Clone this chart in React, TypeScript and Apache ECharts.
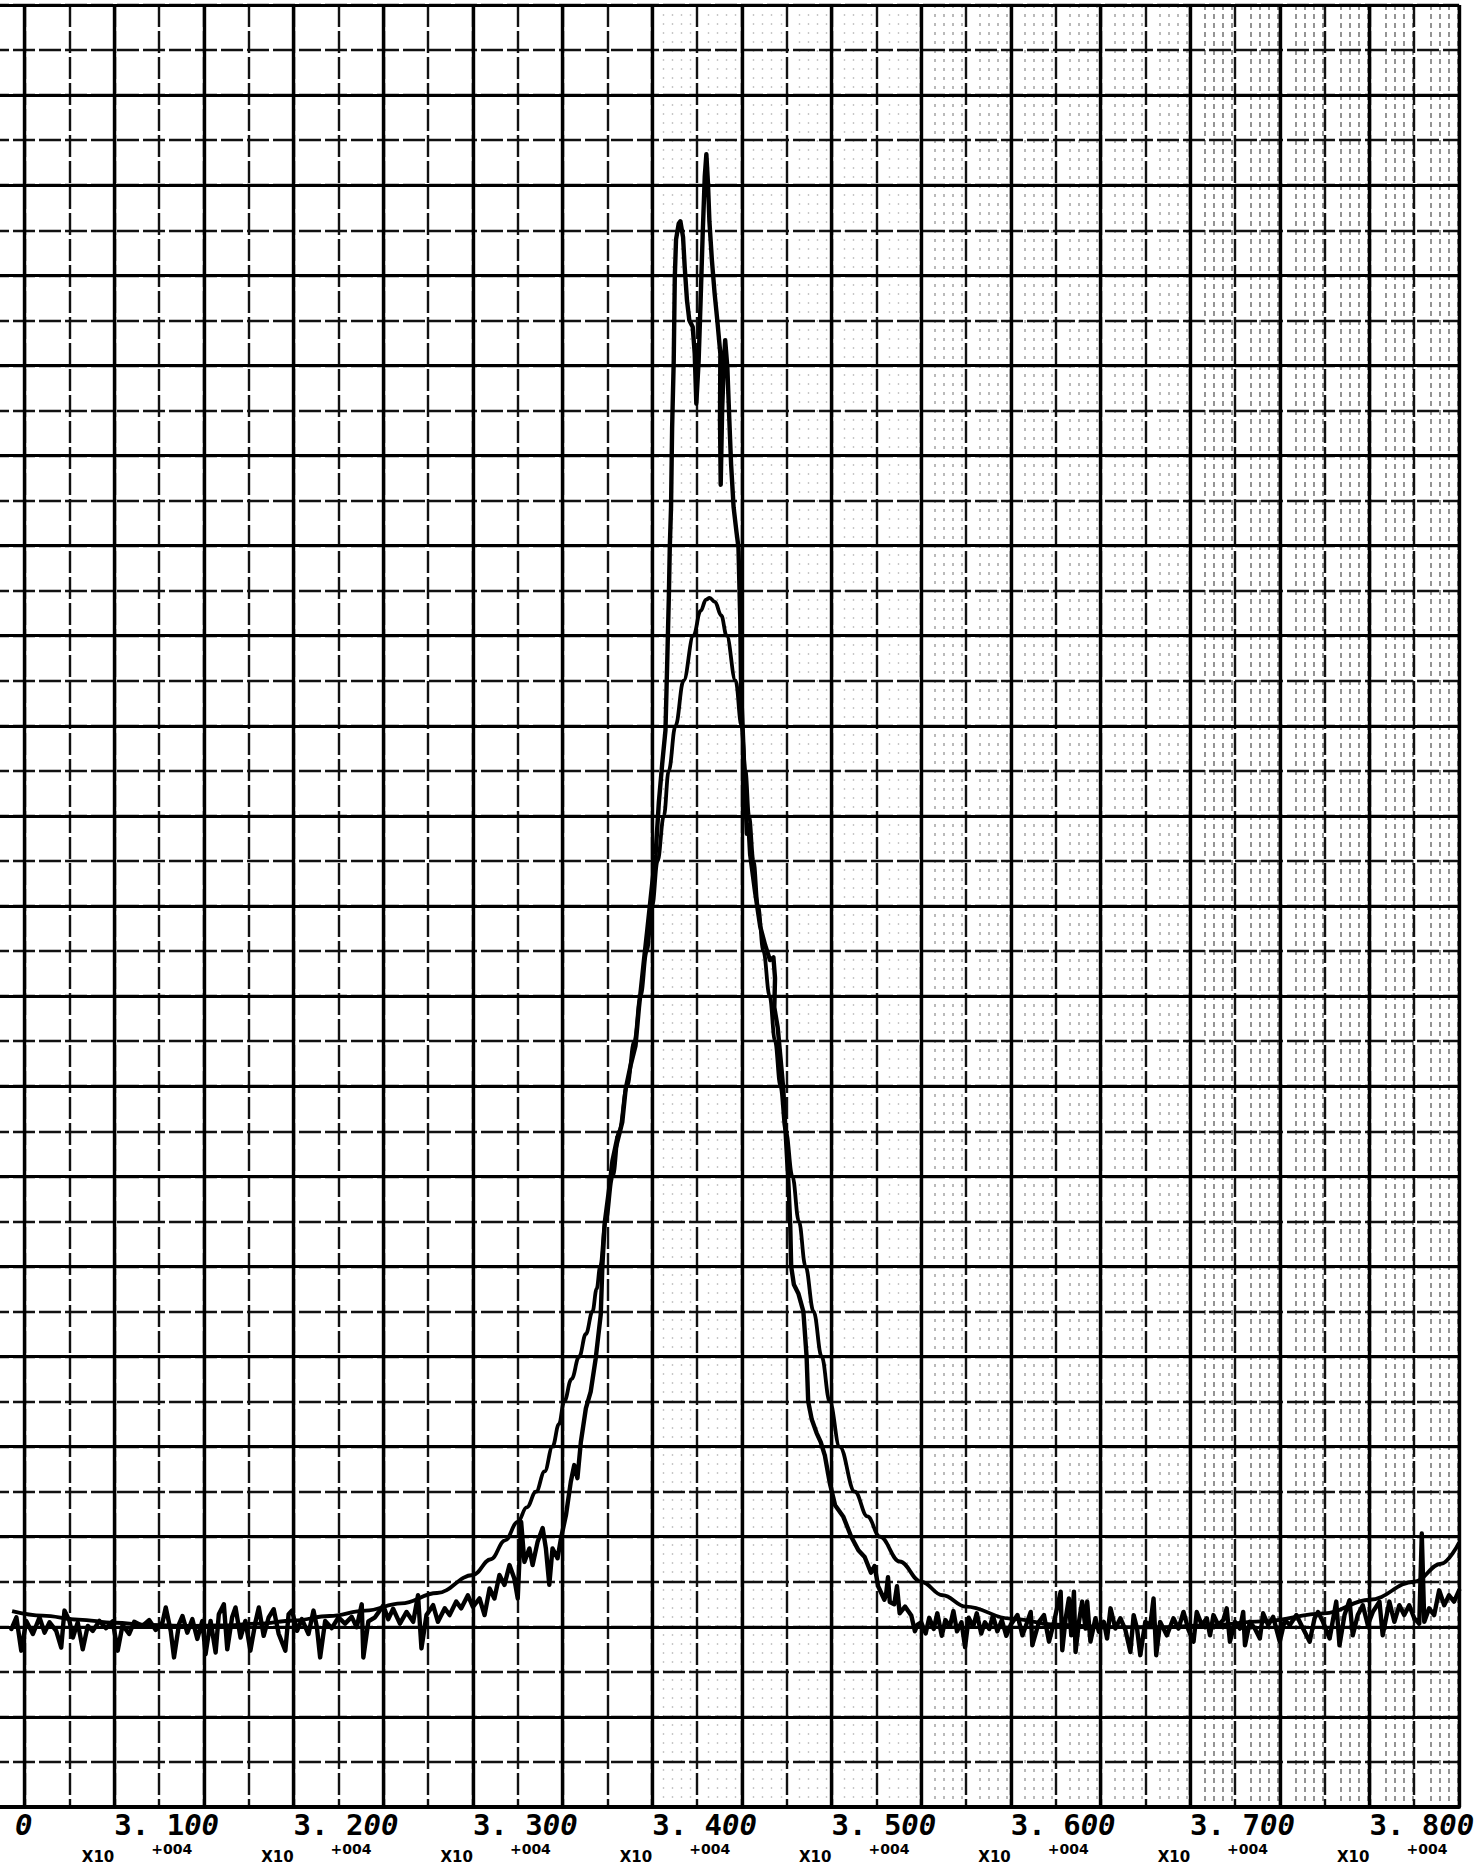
import React, { useEffect, useRef } from "react";
import * as echarts from "echarts";

// ---------------- data (x in field units, y in chart divisions) ----------------
const labelValues = [30000, 31000, 32000, 33000, 34000, 35000, 36000, 37000, 38000];
const multiplierText = "X10";
const exponentText = "+004";

const measured: [number, number][] = [
  [30426, 3.95], [30454, 4.21], [30481, 3.47], [30509, 4.13], [30546, 3.84], [30583, 4.21],
  [30611, 3.87], [30639, 4.1], [30676, 3.91], [30704, 3.54], [30722, 4.36], [30750, 4.13],
  [30769, 3.76], [30796, 4.1], [30824, 3.5], [30852, 4.02], [30880, 3.91], [30917, 4.13],
  [30954, 3.97], [30991, 4.12], [31019, 3.47], [31046, 4.04], [31083, 3.84], [31111, 4.11],
  [31157, 4.02], [31194, 4.15], [31231, 3.93], [31269, 4.1], [31287, 4.43], [31315, 3.9],
  [31333, 3.32], [31361, 4.06], [31380, 4.24], [31407, 3.87], [31435, 4.17], [31463, 3.73],
  [31491, 4.13], [31509, 3.39], [31537, 4.13], [31565, 3.43], [31583, 4.28], [31611, 4.5],
  [31630, 3.5], [31657, 4.21], [31676, 4.43], [31704, 3.76], [31731, 4.13], [31759, 3.47],
  [31787, 4.1], [31806, 4.43], [31833, 3.8], [31861, 4.21], [31889, 4.39], [31917, 3.84],
  [31954, 3.47], [31972, 4.28], [31991, 4.36], [32019, 3.91], [32046, 4.17], [32083, 3.84],
  [32111, 4.36], [32130, 3.99], [32148, 3.32], [32176, 4.13], [32213, 3.97], [32250, 4.21],
  [32287, 4.07], [32324, 4.22], [32352, 3.99], [32380, 4.5], [32389, 3.32], [32417, 4.12],
  [32454, 4.21], [32500, 4.47], [32528, 4.17], [32555, 4.4], [32593, 4.07], [32630, 4.33],
  [32667, 4.11], [32694, 4.7], [32713, 3.52], [32741, 4.26], [32778, 4.48], [32805, 4.11],
  [32843, 4.41], [32870, 4.26], [32907, 4.56], [32935, 4.41], [32972, 4.7], [33000, 4.44],
  [33037, 4.63], [33065, 4.26], [33093, 4.85], [33120, 4.63], [33148, 5.15], [33176, 4.93],
  [33204, 5.37], [33231, 5.07], [33250, 4.63], [33269, 6.33], [33287, 5.44], [33315, 5.74],
  [33333, 5.37], [33361, 5.89], [33389, 6.19], [33407, 5.74], [33426, 4.93], [33444, 5.74],
  [33472, 5.52], [33491, 5.96], [33519, 6.48], [33546, 7.22], [33565, 7.59], [33583, 7.3],
  [33602, 8.1], [33630, 8.85], [33657, 9.22], [33685, 9.96], [33713, 10.93], [33722, 12.0],
  [33735, 12.96], [33759, 13.7], [33778, 14.34], [33806, 14.87], [33795, 14.6], [33833, 15.2],
  [33852, 15.94], [33880, 16.47], [33907, 16.9], [33926, 17.74], [33954, 18.8], [33972, 19.45],
  [34000, 20.5], [34019, 21.15], [34037, 22.3], [34056, 23.17], [34074, 23.9], [34083, 25.3],
  [34093, 26.9], [34098, 27.96], [34105, 28.85], [34111, 30.6], [34120, 32.1], [34126, 33.96],
  [34133, 34.8], [34148, 35.15], [34157, 35.2], [34172, 34.85], [34181, 34.2], [34194, 33.44],
  [34207, 33.0], [34226, 32.85], [34237, 32.26], [34246, 31.15], [34259, 32.1], [34270, 33.44],
  [34281, 34.85], [34293, 36.19], [34302, 36.69], [34311, 36.04], [34319, 35.2], [34333, 34.33],
  [34348, 33.6], [34363, 33.0], [34380, 32.26], [34378, 30.8], [34382, 29.35], [34390, 31.0],
  [34400, 32.1], [34407, 32.56], [34419, 31.96], [34430, 30.8], [34440, 29.8], [34454, 28.85],
  [34470, 28.3], [34481, 27.96], [34491, 26.36], [34496, 24.77], [34509, 23.5], [34519, 22.43],
  [34528, 21.6], [34537, 21.8], [34546, 21.15], [34574, 20.3], [34602, 19.55], [34630, 19.13],
  [34657, 18.8], [34676, 18.86], [34685, 18.4], [34681, 17.75], [34700, 17.3], [34719, 16.47],
  [34731, 15.94], [34744, 14.98], [34759, 13.9], [34770, 12.9], [34775, 12.0], [34790, 11.6],
  [34815, 11.4], [34843, 11.0], [34861, 10.0], [34870, 9.0], [34890, 8.6], [34917, 8.3],
  [34940, 8.1], [34963, 7.8], [34990, 7.2], [35020, 6.7], [35065, 6.45], [35110, 6.0],
  [35150, 5.7], [35185, 5.55], [35220, 5.2], [35240, 5.35], [35260, 4.9], [35295, 4.6],
  [35305, 4.75], [35315, 5.1], [35325, 4.55], [35350, 4.5], [35365, 4.9], [35380, 4.3],
  [35410, 4.45], [35445, 4.25], [35465, 3.9], [35480, 4.05], [35500, 4.1], [35525, 3.85],
  [35545, 4.2], [35570, 3.95], [35590, 4.3], [35615, 3.8], [35635, 4.15], [35660, 4.0],
  [35680, 4.35], [35700, 3.9], [35725, 4.1], [35745, 3.55], [35765, 4.2], [35790, 4.0],
  [35810, 4.3], [35835, 3.85], [35855, 4.1], [35880, 3.95], [35900, 4.25], [35925, 3.9],
  [35950, 4.15], [35975, 3.8], [36000, 4.05], [36037, 4.26], [36065, 3.81], [36111, 4.33],
  [36120, 3.59], [36157, 4.11], [36185, 4.26], [36213, 3.67], [36241, 4.11], [36278, 4.78],
  [36287, 3.48], [36306, 4.19], [36324, 4.63], [36337, 3.81], [36352, 4.78], [36361, 3.44],
  [36380, 4.11], [36398, 4.56], [36417, 3.96], [36426, 4.56], [36444, 3.67], [36472, 4.19],
  [36491, 3.89], [36519, 4.11], [36537, 3.74], [36556, 4.41], [36583, 3.96], [36611, 4.19],
  [36639, 3.93], [36667, 3.44], [36685, 4.26], [36704, 3.96], [36722, 3.37], [36750, 4.11],
  [36778, 4.04], [36796, 4.63], [36811, 3.37], [36833, 4.11], [36870, 3.81], [36907, 4.19],
  [36935, 3.96], [36963, 4.33], [36991, 3.93], [37019, 3.67], [37037, 4.33], [37065, 4.04],
  [37093, 4.19], [37111, 3.81], [37130, 4.26], [37157, 4.04], [37185, 4.15], [37204, 4.41],
  [37222, 3.67], [37250, 4.11], [37278, 3.96], [37296, 4.33], [37306, 3.59], [37333, 4.11],
  [37361, 3.96], [37389, 3.74], [37407, 4.3], [37435, 4.04], [37463, 4.22], [37500, 3.67],
  [37528, 4.15], [37556, 4.04], [37593, 4.26], [37620, 4.04], [37667, 3.67], [37694, 4.19],
  [37713, 4.33], [37741, 4.11], [37778, 3.74], [37815, 4.56], [37833, 3.59], [37861, 4.26],
  [37889, 4.59], [37907, 3.81], [37935, 4.26], [37963, 4.48], [37991, 4.04], [38019, 4.33],
  [38056, 4.56], [38074, 3.81], [38111, 4.56], [38139, 4.11], [38167, 4.48], [38194, 4.26],
  [38222, 4.48], [38250, 4.19], [38278, 4.07], [38292, 6.07], [38306, 4.11], [38333, 4.41],
  [38361, 4.26], [38389, 4.81], [38417, 4.48], [38444, 4.7], [38472, 4.56], [38500, 4.81],
];

const fitted: [number, number][] = [
  [30430, 4.35], [30600, 4.25], [30800, 4.16], [31000, 4.09], [31200, 4.04], [31400, 4.02],
  [31600, 4.03], [31800, 4.07], [32000, 4.14], [32200, 4.24], [32400, 4.36], [32600, 4.52],
  [32800, 4.75], [33000, 5.15], [33100, 5.5], [33180, 5.92], [33250, 6.33], [33300, 6.65],
  [33352, 7.0], [33400, 7.45], [33444, 8.0], [33480, 8.5], [33509, 9.0], [33550, 9.5],
  [33593, 10.0], [33630, 10.5], [33667, 11.0], [33690, 11.5], [33710, 12.0], [33740, 13.0],
  [33780, 14.0], [33815, 15.0], [33860, 16.0], [33900, 17.0], [33935, 18.0], [33970, 19.0],
  [34000, 20.0], [34030, 21.0], [34065, 22.0], [34092, 23.0], [34130, 24.0], [34175, 25.0],
  [34230, 26.0], [34270, 26.55], [34300, 26.8], [34320, 26.84], [34350, 26.75], [34385, 26.45],
  [34415, 26.0], [34465, 25.0], [34498, 24.0], [34520, 23.0], [34540, 22.0], [34565, 21.0],
  [34590, 20.0], [34620, 19.0], [34655, 18.0], [34685, 17.0], [34715, 16.0], [34745, 15.0],
  [34782, 14.0], [34818, 13.0], [34855, 12.0], [34900, 11.0], [34945, 10.0], [34990, 9.0],
  [35045, 8.0], [35130, 7.0], [35200, 6.45], [35270, 6.0], [35380, 5.45], [35500, 5.0],
  [35620, 4.7], [35750, 4.45], [36000, 4.18], [36250, 4.05], [36500, 4.0], [36800, 3.99],
  [37100, 4.03], [37400, 4.12], [37750, 4.3], [38000, 4.6], [38250, 5.0], [38400, 5.4],
  [38500, 5.87],
];

// ---------------- layout ----------------
const W = 1477;
const H = 1871;
const SHIFT = 68; // chart box starts left of the page so that 3.000 falls off-page
const BOX_W = W + SHIFT;
const XMIN = 30000;
const XMAX = 38500;
const YMIN = 0;
const YMAX = 40;
const G_LEFT = 0;
const G_RIGHT = 10;
const G_TOP = 5;
const G_BOTTOM = 64;
const plotW = BOX_W - G_LEFT - G_RIGHT;
const px = (v: number) => G_LEFT + ((v - XMIN) / (XMAX - XMIN)) * plotW;

const isLabelTick = (v: number) => labelValues.includes(Math.round(v));

const mainLabel = (v: number) => {
  if (!isLabelTick(v)) return "";
  const s = (v / 10000).toFixed(3);
  const [ip, frac] = s.split(".");
  if (Math.round(v) === XMIN) {
    // only the tail of the first label is on the paper
    return `{tail|${frac.slice(-1)}}`;
  }
  const digits = frac
    .split("")
    .map((c) => (c === "0" ? `{z|0}` : `{n|${c}}`))
    .join("");
  return `{n|${ip}. }${digits}`;
};

const hiddenAxis = {
  axisLine: { show: false },
  axisTick: { show: false },
  axisLabel: { show: false },
  splitLine: { show: false },
};

const textureAxis = (gridIndex: number, min: number, max: number, color: string, width: number, dash: number[]) => ({
  type: "value", gridIndex, min, max, interval: 250, z: 0,
  ...hiddenAxis,
  minorTick: { show: false, splitNumber: 5 },
  minorSplitLine: { show: true, lineStyle: { color, width, type: dash } },
});

export default function App() {
  const ref = useRef<HTMLDivElement>(null);

  useEffect(() => {
    if (!ref.current) return;
    const chart = echarts.init(ref.current, undefined, { renderer: "svg" });

    const t1 = px(34000);
    const t2 = px(35500);
    const t3 = px(37000);
    const t4 = px(XMAX);
    const digitFont = { fontFamily: "DejaVu Sans Mono", fontSize: 29, fontWeight: "bold", color: "#000", lineHeight: 29 };

    const option: any = {
      animation: false,
      backgroundColor: "#ffffff",
      grid: [
        { left: G_LEFT, right: G_RIGHT, top: G_TOP, bottom: G_BOTTOM, containLabel: false },
        { left: t1, width: t2 - t1, top: G_TOP, bottom: G_BOTTOM, containLabel: false },
        { left: t2, width: t3 - t2, top: G_TOP, bottom: G_BOTTOM, containLabel: false },
        { left: t3, width: t4 - t3, top: G_TOP, bottom: G_BOTTOM, containLabel: false },
      ],
      xAxis: [
        {
          type: "value", gridIndex: 0, position: "bottom", min: XMIN, max: XMAX, interval: 500, z: 3,
          axisLine: { show: true, onZero: false, lineStyle: { color: "#000", width: 4 } },
          axisTick: { show: false },
          axisLabel: { show: false },
          splitLine: { show: true, lineStyle: { color: "#000", width: 3.4 } },
        },
        {
          type: "value", gridIndex: 0, position: "bottom", min: XMIN, max: XMAX, interval: 250, z: 2,
          ...hiddenAxis,
          splitLine: { show: true, lineStyle: { color: "#111", width: 2.4, type: [22, 4] } },
        },
        {
          type: "value", gridIndex: 0, position: "bottom", min: XMIN, max: XMAX, interval: 1000, z: 4,
          axisLine: { show: false }, axisTick: { show: false }, splitLine: { show: false },
          axisLabel: {
            show: true, margin: 3, align: "left", showMinLabel: true, showMaxLabel: false,
            formatter: mainLabel,
            rich: {
              n: { ...digitFont },
              z: { ...digitFont, fontStyle: "italic" },
              tail: { ...digitFont, fontStyle: "italic", padding: [0, 0, 0, 80] },
            },
          },
        },
        {
          type: "value", gridIndex: 0, position: "bottom", min: XMIN, max: XMAX, interval: 1000, z: 4,
          axisLine: { show: false }, axisTick: { show: false }, splitLine: { show: false },
          axisLabel: {
            show: true, margin: 42, align: "right", showMaxLabel: false,
            formatter: (v: number) => (isLabelTick(v) && v > XMIN ? multiplierText : ""),
            fontFamily: "DejaVu Sans", fontSize: 15, fontWeight: "bold", color: "#000", lineHeight: 15,
          },
        },
        {
          type: "value", gridIndex: 0, position: "bottom", min: XMIN, max: XMAX, interval: 1000, z: 4,
          axisLine: { show: false }, axisTick: { show: false }, splitLine: { show: false },
          axisLabel: {
            show: true, margin: 35, align: "left", padding: [0, 0, 0, 37], showMaxLabel: false,
            formatter: (v: number) => (isLabelTick(v) && v > XMIN ? exponentText : ""),
            fontFamily: "DejaVu Sans", fontSize: 14, fontWeight: "bold", color: "#000", lineHeight: 13,
          },
        },
        textureAxis(1, 34000, 35500, "rgba(0,0,0,0.22)", 1.4, [2, 7]),
        textureAxis(2, 35500, 37000, "rgba(0,0,0,0.36)", 1.5, [3, 6]),
        textureAxis(3, 37000, XMAX, "rgba(0,0,0,0.52)", 1.6, [5, 4]),
      ],
      yAxis: [
        {
          type: "value", gridIndex: 0, min: YMIN, max: YMAX, interval: 2, z: 3,
          axisLine: { show: false }, axisTick: { show: false }, axisLabel: { show: false },
          splitLine: { show: true, lineStyle: { color: "#000", width: 3.2 } },
        },
        {
          type: "value", gridIndex: 0, min: YMIN, max: YMAX, interval: 1, z: 2,
          ...hiddenAxis,
          splitLine: { show: true, lineStyle: { color: "#111", width: 2.4, type: [22, 4] } },
        },
        { type: "value", gridIndex: 1, min: YMIN, max: YMAX, ...hiddenAxis },
        { type: "value", gridIndex: 2, min: YMIN, max: YMAX, ...hiddenAxis },
        { type: "value", gridIndex: 3, min: YMIN, max: YMAX, ...hiddenAxis },
      ],
      series: [
        {
          name: "measured", type: "line", xAxisIndex: 0, yAxisIndex: 0, data: measured,
          symbol: "none", z: 10, lineStyle: { color: "#000", width: 4.4, join: "round", cap: "round" },
        },
        {
          name: "fitted", type: "line", xAxisIndex: 0, yAxisIndex: 0, data: fitted,
          symbol: "none", smooth: 0.4, smoothMonotone: "x", z: 11,
          lineStyle: { color: "#000", width: 3.8 },
        },
      ],
    };

    chart.setOption(option);
    return () => chart.dispose();
  }, []);

  return (
    <div
      ref={ref}
      style={{ position: "absolute", left: -SHIFT, top: 0, width: BOX_W, height: H, background: "#fff" }}
    />
  );
}
